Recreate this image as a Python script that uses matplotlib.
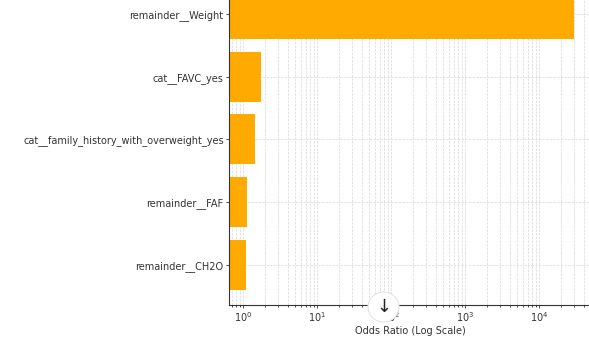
import matplotlib
matplotlib.use("Agg")
import matplotlib.pyplot as plt
from matplotlib.patches import Ellipse

# Odds ratios of the top features
features = ["remainder__Weight", "cat__FAVC_yes",
            "cat__family_history_with_overweight_yes",
            "remainder__FAF", "remainder__CH2O"]
odds_ratios = [29500, 1.73, 1.47, 1.14, 1.09]

fig = plt.figure(figsize=(5.89, 3.38), dpi=100)
ax = fig.add_axes([0.3893, 0.0976, 0.614, 0.98])

ax.barh(features, odds_ratios, color="#FFAA00", height=0.8, zorder=2)
ax.set_xscale("log")
ax.set_xlim(0.653, 50400)
ax.set_ylim(4.64, -0.64)

ax.grid(True, which="both", linestyle="--", linewidth=0.5, color="#d8d8d8", zorder=0)
ax.set_axisbelow(True)
ax.set_xlabel("Odds Ratio (Log Scale)", fontsize=7, color="#333333", labelpad=1)
ax.tick_params(axis="both", labelsize=7, colors="#333333", length=2.5, width=0.6, pad=1.5)
ax.tick_params(axis="x", which="minor", length=1.5, width=0.5)

for side in ["top", "right"]:
    ax.spines[side].set_visible(False)
for side in ["left", "bottom"]:
    ax.spines[side].set_linewidth(0.8)
    ax.spines[side].set_color("#333333")

# scroll-down button overlay from the screenshot
fig.add_artist(Ellipse((383.5 / 589, 1 - 307 / 338), 31 / 589, 30 / 338,
                       facecolor="white", edgecolor="#e4e4e4", linewidth=0.8,
                       transform=fig.transFigure, zorder=5))
fig.text(383.5 / 589, 1 - 307 / 338, "\u2193", ha="center", va="center",
         fontsize=13, color="#222222", zorder=6)

fig.savefig("out.png", dpi=100)
